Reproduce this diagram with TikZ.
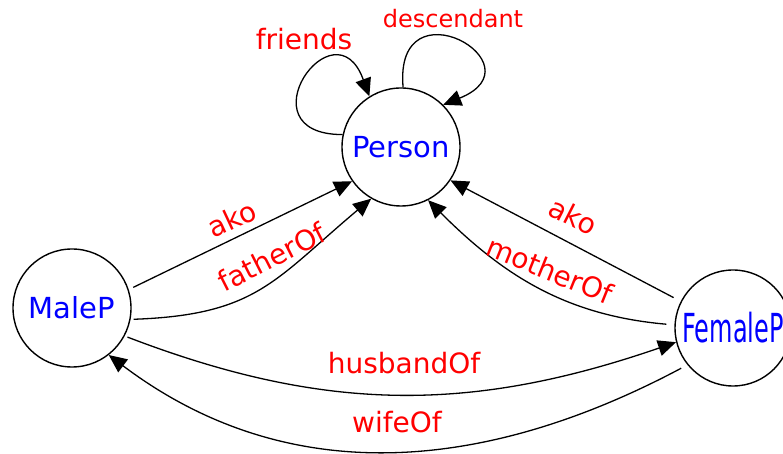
\documentclass[tikz,border=0pt]{standalone}
\usepackage{fontspec}
\usepackage{graphicx}
\setmainfont{DejaVu Sans}
\usetikzlibrary{arrows.meta}

\tikzset{
  state/.style={draw, circle, line width=1.4pt, inner sep=0pt, text=blue,
    font=\fontsize{29}{31}\selectfont},
  rel/.style={-{Triangle[length=18pt,width=16pt]}, line width=1.3pt},
  lbl/.style={text=red, inner sep=0pt, font=\fontsize{28}{30}\selectfont},
}

\begin{document}
\begin{tikzpicture}[x=1pt,y=1pt]
\useasboundingbox (0,0) rectangle (783,454);

\node[state, minimum size=118pt] (person) at (401,307) {Person};
\node[state, minimum size=118pt] (malep) at (72,146) {MaleP};
\node[state, minimum size=116pt] (femalep) at (733,126)
  {\scalebox{0.6}[1]{\fontsize{40}{44}\selectfont FemaleP}};

% loops on Person
\draw[rel] (person.168) to[out=180,in=110,looseness=5.6] (person.122);
\draw[rel] (person.88) to[out=95,in=22,looseness=6.3] (person.45);

% MaleP -> Person
\draw[rel, shorten <=5pt] (malep.18) -- (person.215);
\draw[rel, shorten <=3pt] (malep.-11) to[out=2,in=220,looseness=1.2] (person.240);

% FemaleP -> Person
\draw[rel, shorten <=8pt] (femalep.153) -- (person.-34);
\draw[rel, shorten <=8pt] (femalep.177) to[out=175,in=-45] (person.-63);

% MaleP <-> FemaleP
\draw[rel, shorten <=3pt] (malep.-28) to[out=-21,in=199] (femalep.194);
\draw[rel, shorten <=7pt] (femalep.219) to[out=208,in=-37] (malep.-52);

% labels
\node[lbl] (friendsP) at (304,415) {friends};
\node[lbl, font=\fontsize{24}{26}\selectfont] (descendantP) at (453,435) {descendant};
\node[lbl, rotate=25] (akoM) at (232,235) {ako};
\node[lbl, rotate=27] (fatherOfM) at (272,197) {fatherOf};
\node[lbl, rotate=-27] (akoF) at (573,238) {ako};
\node[lbl, rotate=-22] (motherOfF) at (550,184) {motherOf};
\node[lbl] (husbandOfM) at (404,91) {husbandOf};
\node[lbl] (wifeOfF) at (397,32) {wifeOf};
\end{tikzpicture}
\end{document}
